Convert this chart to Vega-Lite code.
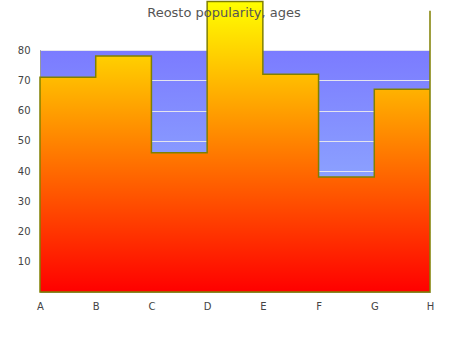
{
  "$schema": "https://vega.github.io/schema/vega-lite/v6.json",
  "width": 390,
  "height": 242,
  "autosize": "none",
  "padding": {"left": 40, "top": 50, "right": 20, "bottom": 58},
  "title": {
    "text": "Reosto popularity, ages",
    "frame": "group",
    "anchor": "middle",
    "dx": -11,
    "offset": -21,
    "zindex": 0,
    "fontSize": 13,
    "fontWeight": "normal",
    "color": "#555555",
    "font": "DejaVu Sans"
  },
  "data": {
    "values": [
      {"age": "A", "popularity": 71},
      {"age": "B", "popularity": 78},
      {"age": "C", "popularity": 46},
      {"age": "D", "popularity": 96},
      {"age": "E", "popularity": 72},
      {"age": "F", "popularity": 38},
      {"age": "G", "popularity": 67},
      {"age": "H", "popularity": 93}
    ]
  },
  "mark": {
    "type": "area",
    "interpolate": "step-after",
    "clip": false,
    "stroke": "#808000",
    "strokeWidth": 1.5,
    "zindex": 1,
    "color": {
      "gradient": "linear",
      "x1": 0, "y1": 1, "x2": 0, "y2": 0,
      "stops": [
        {"offset": 0, "color": "#ff0000"},
        {"offset": 1, "color": "#ffff00"}
      ]
    }
  },
  "encoding": {
    "x": {
      "field": "age",
      "type": "ordinal",
      "scale": {"type": "point", "padding": 0},
      "axis": {"labelAngle": 0, "title": null, "ticks": false, "domainColor": "#999999", "labelPadding": 9, "grid": false}
    },
    "y": {
      "field": "popularity",
      "type": "quantitative",
      "scale": {"domain": [0, 80], "nice": false},
      "axis": {"values": [10, 20, 30, 40, 50, 60, 70, 80], "title": null, "ticks": false, "domainColor": "#999999", "gridColor": "#e4e4ee", "gridOpacity": 1, "labelPadding": 10}
    }
  },
  "config": {
    "view": {
      "stroke": null,
      "fill": {
        "gradient": "linear",
        "x1": 0, "y1": 0, "x2": 0, "y2": 1,
        "stops": [
          {"offset": 0, "color": "#7b7bff"},
          {"offset": 1, "color": "#9ac2ff"}
        ]
      }
    },
    "axis": {"labelFont": "DejaVu Sans", "labelFontSize": 10, "labelColor": "#444444"}
  }
}
